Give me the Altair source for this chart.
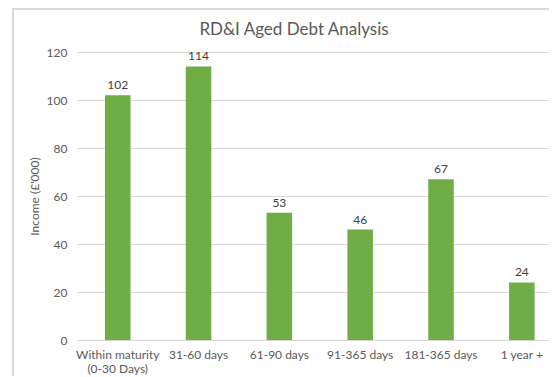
import altair as alt
import pandas as pd

categories = ["Within maturity (0-30 Days)", "31-60 days", "61-90 days",
              "91-365 days", "181-365 days", "1 year +"]
values = [102, 114, 53, 46, 67, 24]

df = pd.DataFrame({"category": categories, "income": values})

FONT = "Lato"
GREY = "#595959"

label_expr = ("indexof(datum.label,' (') > 0 ? "
              "[slice(datum.label,0,indexof(datum.label,' (')), "
              "slice(datum.label,indexof(datum.label,' (')+1)] : datum.label")

x = alt.X("category:N", sort=None, title=None,
          scale=alt.Scale(paddingInner=0.684, paddingOuter=0.262, align=0.66),
          axis=alt.Axis(labelAngle=0, labelExpr=label_expr, ticks=False,
                        domainColor="#d9d9d9", labelColor=GREY, labelFont=FONT,
                        labelFontSize=12, labelPadding=9, labelLineHeight=14))
y = alt.Y("income:Q", title="Income (£'000)",
          scale=alt.Scale(domain=[0, 120]),
          axis=alt.Axis(values=[0, 20, 40, 60, 80, 100, 120], domain=False,
                        ticks=False, gridColor="#d9d9d9", labelColor=GREY,
                        labelFont=FONT, labelFontSize=12, labelPadding=10,
                        titleColor=GREY, titleFont=FONT, titleFontSize=12,
                        titleFontWeight="normal", titlePadding=5))

frame = alt.Chart(df).mark_rect(fill=None, stroke="#d9d9d9", strokeWidth=1.5,
                                clip=False).encode(
    x=alt.value(-64), x2=alt.value(520), y=alt.value(-43), y2=alt.value(400)
)

bars = alt.Chart(df).mark_bar(color="#70AD47").encode(x=x, y=y)
texts = alt.Chart(df).mark_text(baseline="bottom", dy=-3, font=FONT,
                                fontSize=12, color="#404040").encode(
    x=x, y=y, text="income:Q")

chart = alt.layer(frame, bars, texts).properties(
    width=472, height=288,
    autosize=alt.AutoSizeParams(type="none"),
    padding={"left": 69, "top": 44, "right": 0, "bottom": 36},
    title=alt.TitleParams("RD&I Aged Debt Analysis", font=FONT, fontSize=17,
                          fontWeight="normal", color=GREY, anchor="middle",
                          dx=-19, offset=-31),
).configure_view(stroke=None)

chart.save("out.html", embed_options={"renderer": "svg", "actions": False})
